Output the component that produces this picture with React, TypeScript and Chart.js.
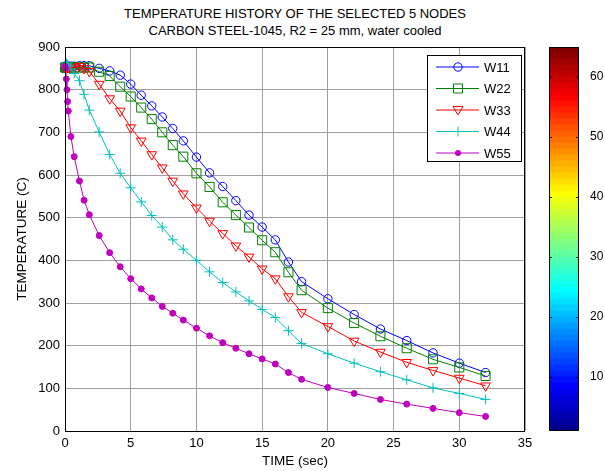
import React, { useEffect, useRef } from "react";
import { Chart, registerables } from "chart.js";

Chart.register(...registerables);

const TIME = [0, 0.05, 0.1, 0.15, 0.2, 0.25, 0.45, 0.7, 1.1, 1.45, 1.85, 2.6, 3.4, 4.2, 5.0, 5.8, 6.6, 7.4, 8.2, 9, 10, 11, 12, 13, 14, 15, 16, 17, 18, 20, 22, 24, 26, 28, 30, 32];
const W11 = [855, 855, 855, 855, 855, 855, 855, 855, 856, 856, 856, 850, 844, 834, 813, 787, 762, 736, 709, 680, 642, 605, 573, 540, 506, 478, 448, 396, 350, 310, 273, 239, 212, 183, 159, 137];
const W22 = [852, 852, 852, 852, 852, 852, 852, 852, 852, 852, 852, 842, 832, 807, 784, 758, 731, 700, 670, 643, 604, 572, 536, 506, 477, 447, 419, 372, 330, 288, 253, 222, 194, 168, 149, 129];
const W33 = [852, 852, 852, 852, 852, 852, 852, 852, 855, 850, 843, 813, 779, 750, 711, 680, 648, 617, 586, 556, 523, 492, 463, 434, 408, 380, 357, 315, 278, 245, 211, 185, 161, 142, 124, 106];
const W44 = [855, 858, 862, 860, 858, 855, 848, 838, 821, 789, 752, 701, 648, 604, 570, 537, 505, 478, 448, 426, 400, 373, 348, 326, 305, 285, 266, 235, 205, 181, 159, 139, 120, 101, 88, 74];
const W55 = [855, 850, 825, 800, 772, 750, 690, 643, 586, 541, 507, 458, 418, 385, 357, 333, 312, 292, 276, 260, 241, 223, 207, 194, 181, 169, 157, 137, 121, 102, 88, 74, 63, 53, 43, 34];

const SERIES_LABELS = ["W11", "W22", "W33", "W44", "W55"];
const SERIES_VALUES = [W11, W22, W33, W44, W55];
const SERIES_COLORS = ["#0000ff", "#008000", "#ff0000", "#00bfbf", "#bf00bf"];
const SERIES_MARKERS = ["circle", "square", "tridown", "plus", "dot"];

const TITLE_LINES = ["TEMPERATURE HISTORY OF THE SELECTED 5 NODES", "CARBON STEEL-1045, R2 = 25 mm, water cooled"];
const X_TITLE = "TIME (sec)";
const Y_TITLE = "TEMPERATURE (C)";
const CB_TICKS = [10, 20, 30, 40, 50, 60];
const CB_MIN = 1;
const CB_MAX = 65;
const CB_LEVELS = 64;

const FONT = 'Arial, "Liberation Sans", Helvetica, sans-serif';

function jetMap(m: number): string[] {
  const n = Math.ceil(m / 4);
  const u: number[] = [];
  for (let i = 1; i <= n; i++) u.push(i / n);
  for (let i = 1; i <= n - 1; i++) u.push(1);
  for (let i = n; i >= 1; i--) u.push(i / n);
  const off = Math.ceil(n / 2) - (m % 4 === 1 ? 1 : 0);
  const J = Array.from({ length: m }, () => [0, 0, 0]);
  for (let k = 0; k < u.length; k++) {
    const g = off + k + 1;
    const r = g + n;
    const b = g - n;
    if (r >= 1 && r <= m) J[r - 1][0] = u[k];
    if (g >= 1 && g <= m) J[g - 1][1] = u[k];
    if (b >= 1 && b <= m) J[b - 1][2] = u[k];
  }
  return J.map(([r, g, b]) => `rgb(${Math.round(r * 255)},${Math.round(g * 255)},${Math.round(b * 255)})`);
}

function drawMarker(ctx: CanvasRenderingContext2D, kind: string, x: number, y: number, color: string) {
  ctx.save();
  ctx.strokeStyle = color;
  ctx.fillStyle = color;
  ctx.lineWidth = 1;
  ctx.beginPath();
  if (kind === "circle") {
    ctx.arc(x, y, 4.2, 0, Math.PI * 2);
    ctx.stroke();
  } else if (kind === "square") {
    ctx.rect(x - 4.5, y - 4.5, 9, 9);
    ctx.stroke();
  } else if (kind === "tridown") {
    ctx.moveTo(x - 5, y - 3.5);
    ctx.lineTo(x + 5, y - 3.5);
    ctx.lineTo(x, y + 5);
    ctx.closePath();
    ctx.stroke();
  } else if (kind === "plus") {
    ctx.moveTo(x - 5, y);
    ctx.lineTo(x + 5, y);
    ctx.moveTo(x, y - 5);
    ctx.lineTo(x, y + 5);
    ctx.stroke();
  } else {
    ctx.arc(x, y, 3, 0, Math.PI * 2);
    ctx.fill();
  }
  ctx.restore();
}

const pointStyleFor = (kind: string) =>
  kind === "circle" ? "circle" : kind === "square" ? "rect" : kind === "tridown" ? "triangle" : kind === "plus" ? "cross" : "circle";
const radiusFor = (kind: string) =>
  kind === "circle" ? 4.2 : kind === "square" ? 6.4 : kind === "tridown" ? 5.6 : kind === "plus" ? 5 : 3;

export default function App() {
  const mainRef = useRef<HTMLCanvasElement | null>(null);
  const cbRef = useRef<HTMLCanvasElement | null>(null);

  useEffect(() => {
    const boxAndLegend = {
      id: "boxAndLegend",
      afterDatasetsDraw(chart: any) {
        const { ctx, chartArea } = chart;
        ctx.save();
        ctx.strokeStyle = "#000";
        ctx.lineWidth = 1;
        ctx.strokeRect(chartArea.left + 0.5, chartArea.top + 0.5, chartArea.right - chartArea.left - 1, chartArea.bottom - chartArea.top);
        const w = 94;
        const h = 106;
        const left = chartArea.right - 4 - w;
        const top = chartArea.top + 8;
        ctx.fillStyle = "#fff";
        ctx.fillRect(left, top, w, h);
        ctx.strokeRect(left + 0.5, top + 0.5, w, h);
        ctx.font = `13px ${FONT}`;
        ctx.textBaseline = "middle";
        ctx.textAlign = "left";
        chart.data.datasets.forEach((ds: any, i: number) => {
          const y = top + 12 + i * 21.5;
          ctx.beginPath();
          ctx.strokeStyle = ds.borderColor;
          ctx.moveTo(left + 9, y);
          ctx.lineTo(left + 52, y);
          ctx.stroke();
          drawMarker(ctx, SERIES_MARKERS[i], left + 31, y, ds.borderColor);
          ctx.fillStyle = "#000";
          ctx.fillText(ds.label, left + 57, y + 1);
        });
        ctx.restore();
      },
    };

    const mainChart = new Chart(mainRef.current as HTMLCanvasElement, {
      type: "line",
      data: {
        datasets: SERIES_LABELS.map((label, i) => {
          const kind = SERIES_MARKERS[i];
          return {
            label,
            data: TIME.map((t, k) => ({ x: t, y: SERIES_VALUES[i][k] })),
            borderColor: SERIES_COLORS[i],
            borderWidth: 1,
            pointStyle: pointStyleFor(kind) as any,
            pointRadius: radiusFor(kind),
            pointRotation: kind === "tridown" ? 180 : 0,
            pointBorderColor: SERIES_COLORS[i],
            pointBorderWidth: 1,
            pointBackgroundColor: kind === "dot" ? SERIES_COLORS[i] : "rgba(0,0,0,0)",
            fill: false,
            tension: 0,
            clip: false as any,
            order: SERIES_LABELS.length - i,
          };
        }),
      },
      options: {
        responsive: false,
        animation: false,
        events: [],
        layout: { padding: { top: 47, left: 0, right: 15, bottom: 0 } },
        plugins: { legend: { display: false }, tooltip: { enabled: false }, title: { display: false } },
        scales: {
          x: {
            type: "linear",
            min: 0,
            max: 35,
            ticks: { stepSize: 5, color: "#000", font: { size: 13, family: FONT }, padding: 5, maxRotation: 0 },
            grid: { color: "#a0a0a0", drawTicks: false },
            border: { display: false },
            title: { display: true, text: X_TITLE, color: "#000", font: { size: 13.5, family: FONT, lineHeight: 1.2 }, padding: { top: 0, bottom: 2 } },
            afterFit: (s: any) => {
              s.height = 40;
            },
          },
          y: {
            type: "linear",
            min: 0,
            max: 900,
            ticks: { stepSize: 100, color: "#000", font: { size: 13, family: FONT }, padding: 5 },
            grid: { color: "#a0a0a0", drawTicks: false },
            border: { display: false },
            title: { display: true, text: Y_TITLE, color: "#000", font: { size: 13.5, family: FONT, lineHeight: 1.2 }, padding: { top: 14, bottom: 0 } },
            afterFit: (s: any) => {
              s.width = 65;
            },
          },
        },
      },
      plugins: [boxAndLegend],
    });

    const colors = jetMap(CB_LEVELS);
    const step = (CB_MAX - CB_MIN) / CB_LEVELS;
    const cbBox = {
      id: "cbBox",
      afterDatasetsDraw(chart: any) {
        const { ctx, chartArea, scales } = chart;
        ctx.save();
        ctx.strokeStyle = "#000";
        ctx.lineWidth = 1;
        ctx.strokeRect(chartArea.left + 0.5, chartArea.top + 0.5, chartArea.right - chartArea.left - 1, chartArea.bottom - chartArea.top - 1);
        ctx.beginPath();
        CB_TICKS.forEach((v) => {
          const y = Math.round(scales.y.getPixelForValue(v)) + 0.5;
          ctx.moveTo(chartArea.left, y);
          ctx.lineTo(chartArea.left + 3, y);
          ctx.moveTo(chartArea.right - 3, y);
          ctx.lineTo(chartArea.right, y);
        });
        ctx.stroke();
        ctx.restore();
      },
    };
    const cbChart = new Chart(cbRef.current as HTMLCanvasElement, {
      type: "bar",
      data: {
        labels: [""],
        datasets: colors.map((c, i) => ({
          data: [[CB_MIN + i * step, CB_MIN + (i + 1) * step]] as any,
          backgroundColor: c,
          borderWidth: 0,
          grouped: false,
          barPercentage: 1,
          categoryPercentage: 1,
        })),
      },
      options: {
        responsive: false,
        animation: false,
        events: [],
        layout: { padding: { left: 9, top: 47, bottom: 40, right: 0 } },
        plugins: { legend: { display: false }, tooltip: { enabled: false } },
        scales: {
          x: { display: false },
          y: {
            position: "right",
            min: CB_MIN,
            max: CB_MAX,
            grid: { display: false },
            border: { display: false },
            afterBuildTicks: (s: any) => {
              s.ticks = CB_TICKS.map((v) => ({ value: v }));
            },
            ticks: { color: "#000", font: { size: 12, family: FONT }, padding: 3 },
            afterFit: (s: any) => {
              s.width = 26;
            },
          },
        },
      },
      plugins: [cbBox],
    });

    return () => {
      mainChart.destroy();
      cbChart.destroy();
    };
  }, []);

  return (
    <div style={{ position: "fixed", left: 0, top: 0, width: 605, height: 471, background: "#fff", fontFamily: FONT }}>
      <div style={{ position: "absolute", left: 65, width: 460, top: 5, textAlign: "center", fontSize: 13, lineHeight: "17px", color: "#000" }}>
        {TITLE_LINES.map((t) => (
          <div key={t}>{t}</div>
        ))}
      </div>
      <canvas ref={mainRef} width={540} height={471} style={{ position: "absolute", left: 0, top: 0 }} />
      <canvas ref={cbRef} width={65} height={471} style={{ position: "absolute", left: 540, top: 0 }} />
    </div>
  );
}
